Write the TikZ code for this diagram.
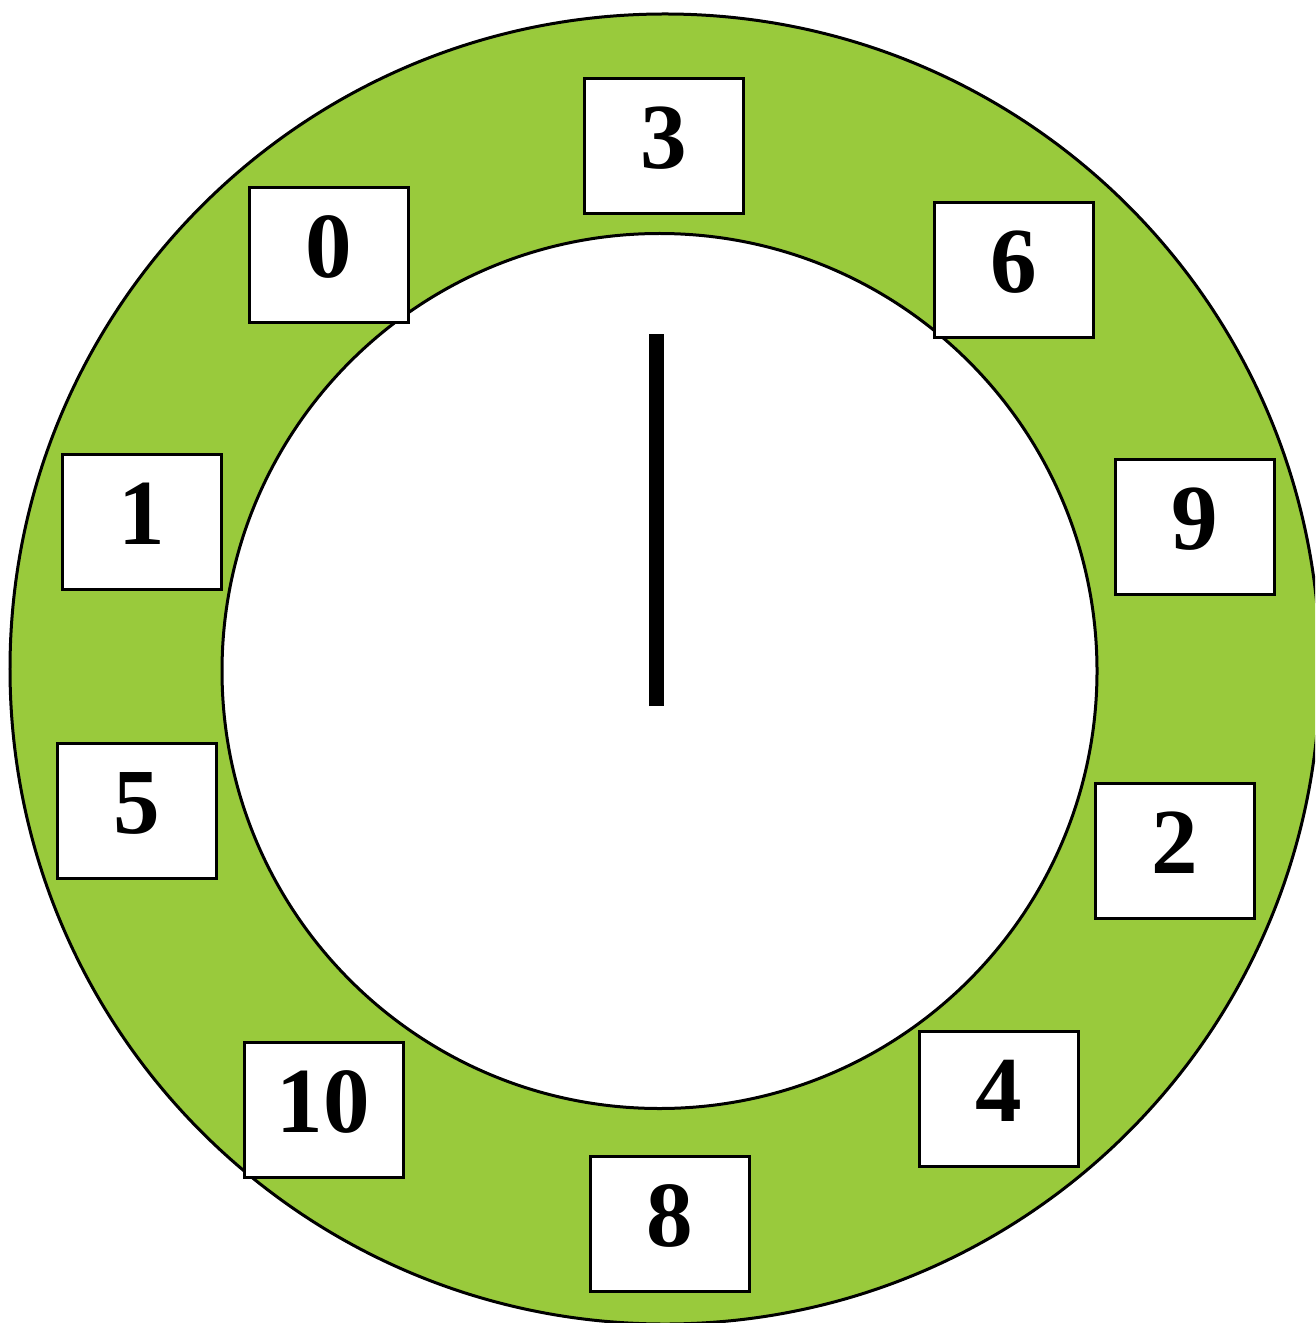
\documentclass[tikz,border=0pt]{standalone}
\usepackage{fontspec}
\setmainfont{Liberation Serif}
\usepackage{tikz}
\usetikzlibrary{positioning}

\definecolor{dialgreen}{RGB}{153,202,60}

\tikzset{
  numbox/.style={draw, line width=0.03cm, fill=white, inner sep=0pt,
    minimum width=1.59cm, minimum height=1.35cm, text depth=0.16cm,
    font=\fontsize{26.5}{30}\selectfont\bfseries},
  rim/.style={draw, line width=0.03cm},
}

\begin{document}
\begin{tikzpicture}
  \useasboundingbox (0,0) rectangle (13.15,-13.23);
  \clip (0,0) rectangle (13.15,-13.23);
  % dial: green ring and white face
  \coordinate (hub) at (6.56,-7.06);
  \fill[dialgreen] (6.65,-6.69) circle (6.55);
  \draw[rim] (6.65,-6.69) circle (6.55);
  \draw[rim, fill=white] (6.595,-6.71) circle (4.375);
  % hand
  \coordinate (tip) at (6.56,-3.34);
  \draw[line width=0.15cm] (hub) -- (tip);
  % number boxes round the ring
  \foreach \num/\x/\y in {3/6.64/1.46, 0/3.29/2.55, 6/10.14/2.70, 1/1.42/5.22,
                          9/11.95/5.27, 5/1.37/8.11, 2/11.75/8.51, 10/3.235/11.10,
                          4/9.99/10.99, 8/6.695/12.235}
    \node[numbox] (n\num) at (\x,-\y) {\num};
\end{tikzpicture}
\end{document}
